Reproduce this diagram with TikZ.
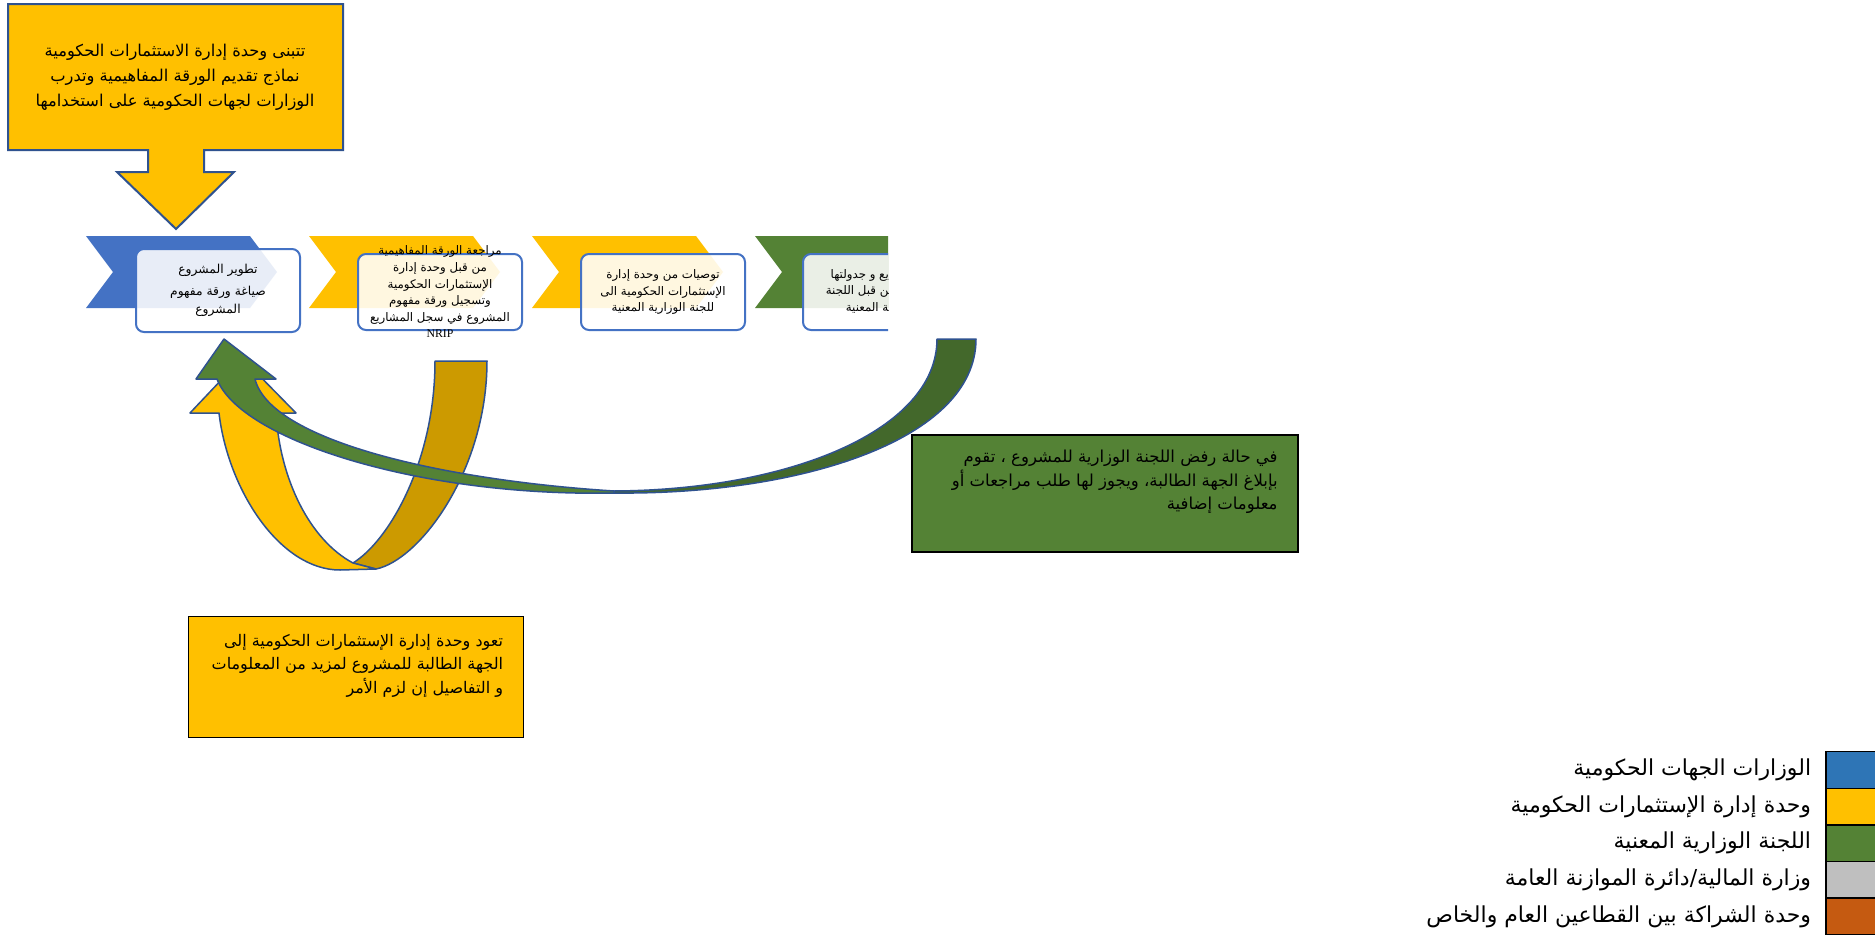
\documentclass[tikz,border=0pt]{standalone}
\usepackage{fontspec}
\usepackage{tikz}
\usetikzlibrary{calc,shapes,backgrounds,arrows,positioning}
\newfontfamily\arabicfont[Script=Arabic]{DejaVu Sans}
\newfontfamily\nripfont{Liberation Serif}
\TeXXeTstate=1
\newcommand{\arln}[1]{\beginR#1\endR}

\definecolor{chevblue}{RGB}{68,114,196}
\definecolor{gold}{RGB}{255,192,0}
\definecolor{darkgold}{RGB}{204,154,0}
\definecolor{leaf}{RGB}{84,130,53}
\definecolor{darkleaf}{RGB}{67,104,43}
\definecolor{shapeline}{RGB}{47,82,143}
\definecolor{keyblue}{RGB}{46,117,182}
\definecolor{keygrey}{RGB}{191,191,191}
\definecolor{keyorange}{RGB}{197,90,17}

\tikzstyle{stepbox}=[draw=chevblue,line width=2pt,rounded corners=8pt,fill=white,fill opacity=0.88,minimum width=164pt,minimum height=76pt,inner sep=0pt]
\tikzstyle{steptext}=[font=\arabicfont\fontsize{11.8}{16.6}\selectfont,align=center,inner sep=0pt]
\tikzstyle{ribbon}=[draw=shapeline,line width=1.5pt,line join=round]

\begin{document}
\begin{tikzpicture}[x=1pt,y=-1pt]
          \path[use as bounding box,fill=white] (0,0) rectangle (1875,937);
          \tikzstyle{notebox}=[draw=black,line width=1.5pt,inner sep=0pt]
          \tikzstyle{notetext}=[font=\arabicfont\fontsize{16.5}{23.5}\selectfont,align=right,inner sep=0pt]
          \tikzstyle{keysq}=[draw=black,line width=1.5pt,minimum width=50pt,minimum height=36.6pt,inner sep=0pt]
          \tikzstyle{keytext}=[font=\arabicfont\fontsize{22}{25}\selectfont,inner sep=0pt]

          % bulle du haut
          \draw[fill=gold,draw=shapeline,line width=2pt] (8,4) -- (343,4) -- (343,150) -- (204,150)
          -- (204,172) -- (234,172) -- (176,229) -- (117,172) -- (148,172) -- (148,150) -- (8,150) -- cycle;
          \node[font=\arabicfont\fontsize{16.3}{25}\selectfont,align=center] (adopt) at (175,77)
          {\arln{تتبنى وحدة إدارة الاستثمارات الحكومية}\\ \arln{نماذج تقديم الورقة المفاهيمية وتدرب}\\ \arln{الوزارات لجهات الحكومية على استخدامها}};

          % les etapes
          \begin{scope}
            \clip (0,200) rectangle (888,350);
            \foreach \i/\col in {0/chevblue,1/gold,2/gold,3/leaf}{
              \fill[\col] ({86+\i*223},236) -- ++(164,0) -- ++(27,36) -- ++(-27,36) -- ++(-164,0) -- ++(27,-36) -- cycle;
            }
            \node[stepbox,minimum height=83pt] (b1) at (218,290.5) {};
            \node[stepbox] (b2) at (440,292) {};
            \node[stepbox] (b3) at (663,292) {};
            \node[stepbox] (b4) at (885,292) {};

            \node[steptext,font=\arabicfont\fontsize{12.3}{18}\selectfont] (t1) at (b1)
            {\arln{تطوير المشروع}\\[4pt] \arln{صياغة ورقة مفهوم}\\ \arln{المشروع}};
            \node[steptext] (t2) at (b2)
            {\arln{مراجعة الورقة المفاهيمية}\\ \arln{من قبل وحدة إدارة}\\ \arln{الإستثمارات الحكومية}\\
              \arln{وتسجيل ورقة مفهوم}\\ \arln{المشروع في سجل المشاريع}\\ {\nripfont NRIP}};
            \node[steptext] (t3) at (b3)
            {\arln{توصيات من وحدة إدارة}\\ \arln{الإستثمارات الحكومية الى}\\ \arln{للجنة الوزارية المعنية}};
            \node[steptext,align=right,anchor=east] (t4) at (889,291)
            {\arln{يع و جدولتها}\\ \arln{^^^^200dن قبل اللجنة}\\ \arln{^^^^200dة المعنية}};
          \end{scope}

          % fleche jaune
          \draw[ribbon,fill=darkgold] (435,361) -- (487,361) .. controls (487,470) and (420,560) .. (376,569)
          -- (353,563) .. controls (390,540) and (435,460) .. (435,361) -- cycle;
          \draw[ribbon,fill=gold] (190,413) -- (242,358) -- (296,413) -- (276,413)
          .. controls (280,480) and (310,540) .. (353,563) -- (376,569) -- (340,570)
          .. controls (280,570) and (228,490) .. (219,413) -- cycle;

          % fleche verte
          \draw[ribbon,fill=darkleaf] (614,493) .. controls (800,495) and (976,440) .. (976,339)
          -- (937,339) .. controls (937,430) and (790,490) .. (614,491) -- cycle;
          \draw[ribbon,fill=leaf] (217,379) .. controls (240,440) and (420,497) .. (614,493)
          -- (614,491) .. controls (440,480) and (270,440) .. (255,379)
          -- (276,379) -- (224,339) -- (196,379) -- cycle;

          % notes
          \node[notebox,fill=leaf,minimum width=386pt,minimum height=117pt] (reject) at (1105,493.5) {};
          \node[notetext,anchor=north east] (rejecttxt) at ([xshift=-21pt,yshift=-16pt]reject.north east)
          {\arln{في حالة رفض اللجنة الوزارية للمشروع ، تقوم}\\ \arln{بإبلاغ الجهة الطالبة، ويجوز لها طلب مراجعات أو}\\ \arln{معلومات إضافية}};

          \node[notebox,fill=gold,minimum width=335pt,minimum height=121pt] (askinfo) at (356,677) {};
          \node[notetext,anchor=north east,font=\arabicfont\fontsize{16}{23.5}\selectfont] (askinfotxt) at ([xshift=-21pt,yshift=-18pt]askinfo.north east)
          {\arln{تعود وحدة إدارة الإستثمارات الحكومية إلى}\\ \arln{الجهة الطالبة للمشروع لمزيد من المعلومات}\\ \arln{و التفاصيل إن  لزم الأمر}};

          % legende
          \foreach \i/\col/\lbl in {1/keyblue/{الوزارات الجهات الحكومية},
            2/gold/{وحدة إدارة الإستثمارات الحكومية},
            3/leaf/{اللجنة الوزارية المعنية},
            4/keygrey/{وزارة المالية/دائرة الموازنة العامة},
            5/keyorange/{وحدة الشراكة بين القطاعين العام والخاص}}{
            \node[keysq,fill=\col] (k\i) at (1851,{733.4+\i*36.6}) {};
            \node[keytext,left=14pt of k\i] (l\i) {\arln{\lbl}};
          }
        \end{tikzpicture}
\end{document}
